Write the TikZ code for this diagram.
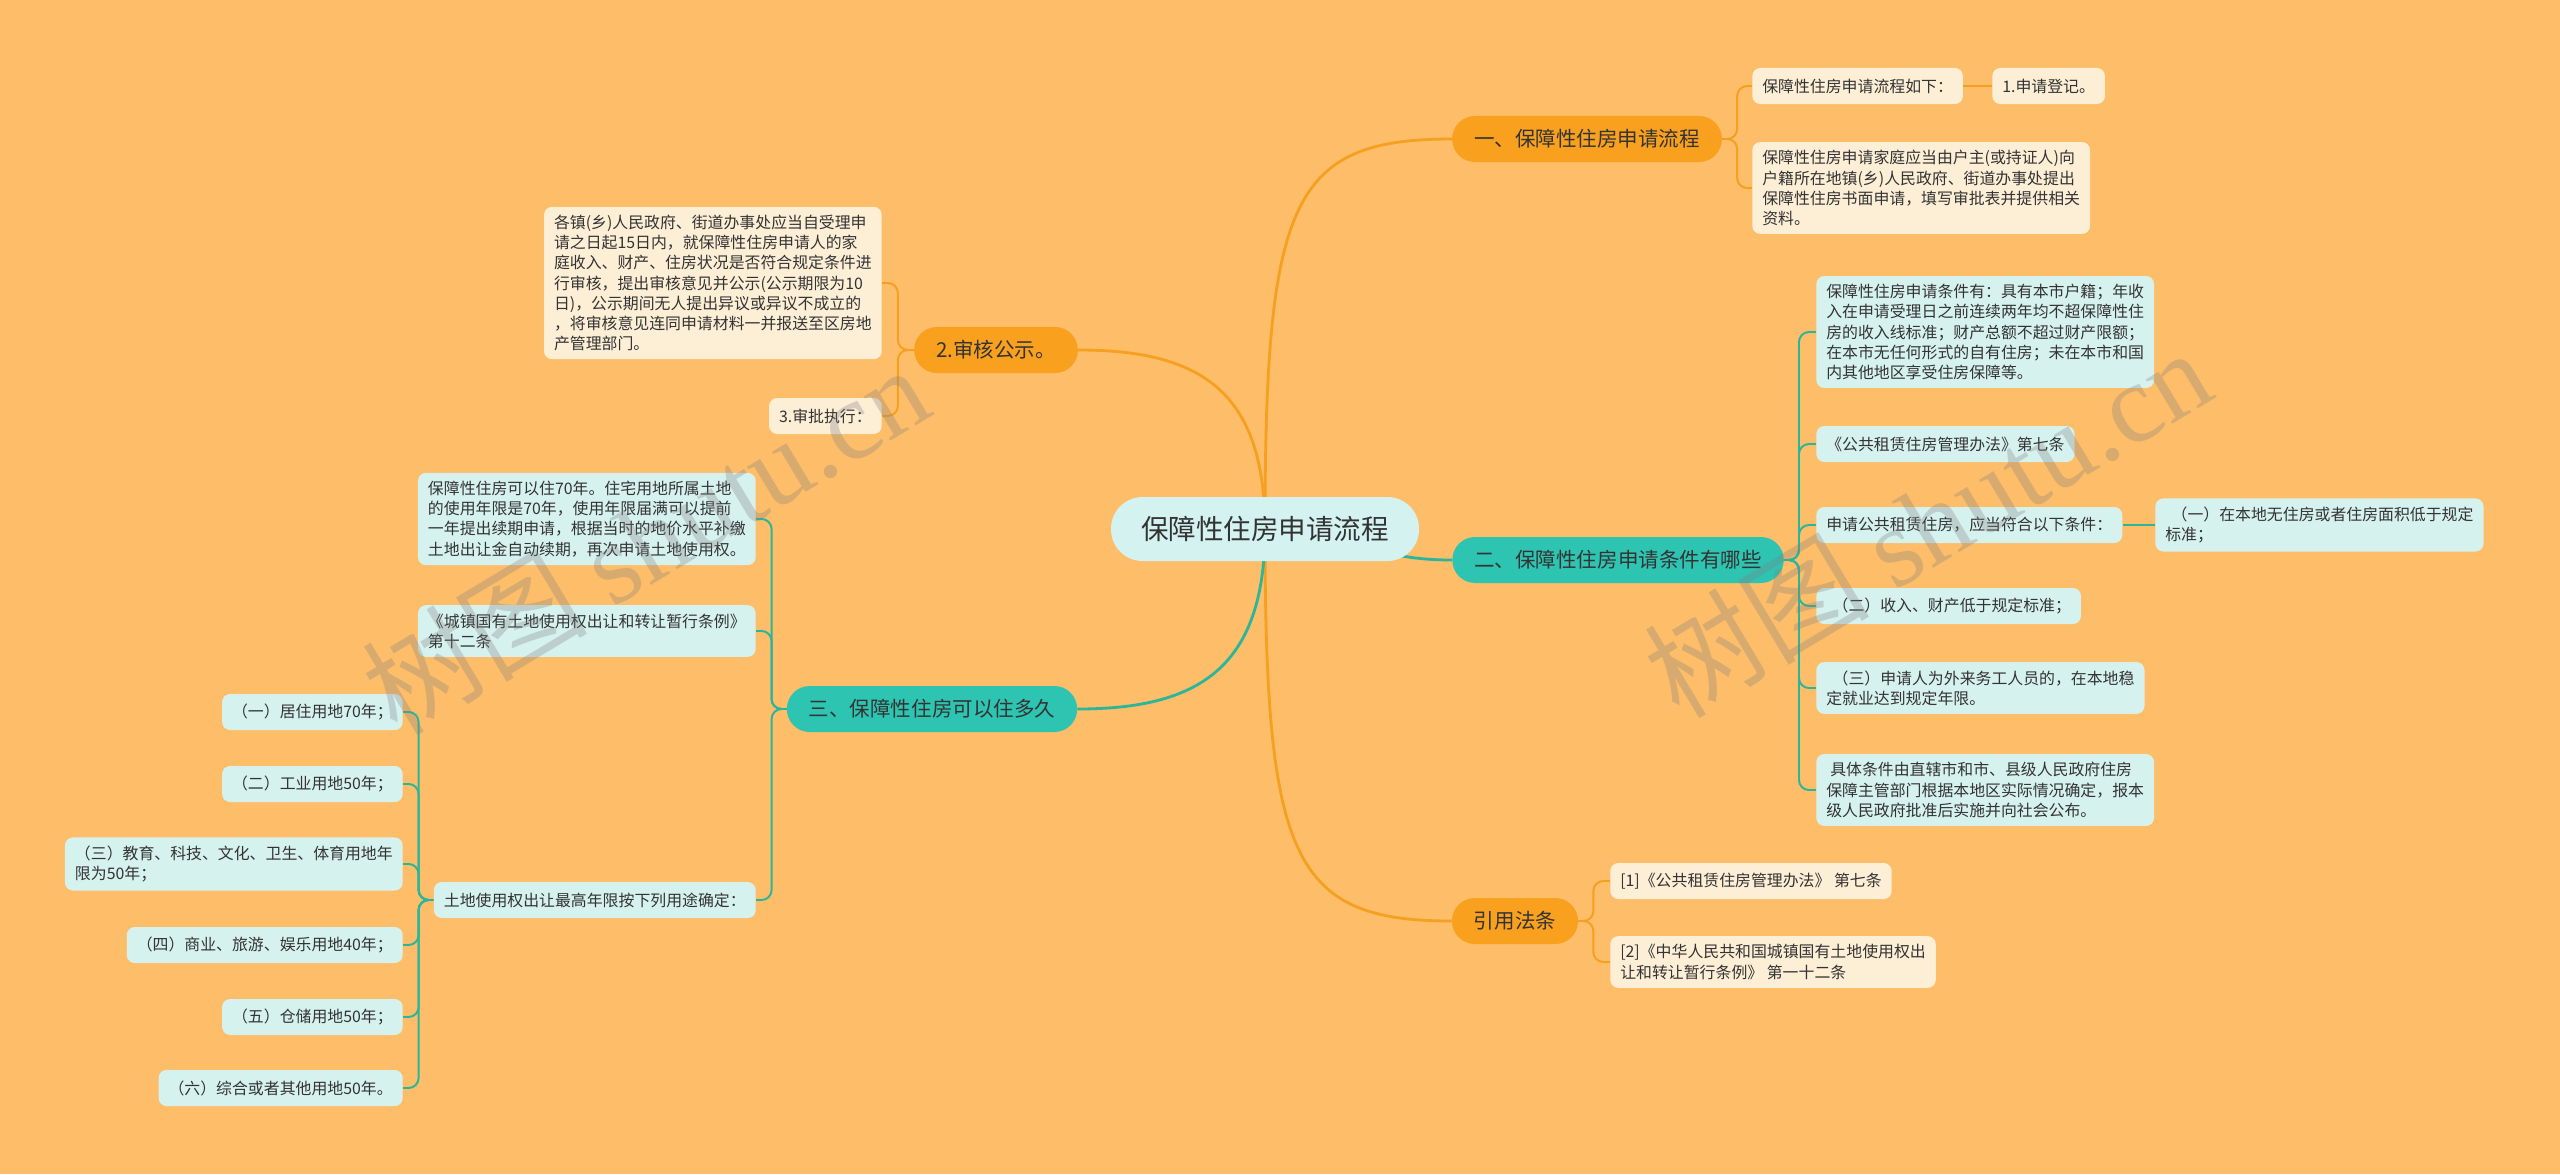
\documentclass[tikz,border=0pt]{standalone}
\usepackage{fontspec}
\setmainfont{Noto Sans CJK SC}
\newfontfamily\wmfont{Liberation Serif}
\usetikzlibrary{backgrounds}
\definecolor{paper}{RGB}{254,189,104}
\definecolor{orng}{RGB}{249,161,30}
\definecolor{tealbr}{RGB}{46,196,178}
\definecolor{rootbg}{RGB}{212,243,240}
\definecolor{cream}{RGB}{253,238,214}
\definecolor{mint}{RGB}{214,242,238}
\definecolor{oline}{RGB}{245,160,32}
\definecolor{tline}{RGB}{43,181,155}
\definecolor{ink}{RGB}{51,51,51}

\begin{document}
\begin{tikzpicture}[x=0.25mm,y=-0.25mm,
  leaf/.style={rounded corners=2mm,align=left,text=ink,inner xsep=2.5mm,inner ysep=2.1mm,
    minimum height=9mm,font=\fontsize{11.3}{14.3}\selectfont},
  lo/.style={leaf,fill=cream},
  lt/.style={leaf,fill=mint},
  br/.style={rounded corners=5.7mm,minimum height=11.5mm,inner xsep=5.5mm,text=ink,
    font=\fontsize{14.6}{17}\selectfont},
  bo/.style={br,fill=orng},
  bt/.style={br,fill=tealbr},
  eo/.style={draw=oline,line width=1.4pt,rounded corners=2.5mm},
  et/.style={draw=tline,line width=1.4pt,rounded corners=2.5mm},
  ro/.style={draw=oline,line width=2pt},
  rt/.style={draw=tline,line width=2pt}]
\useasboundingbox (0,0) rectangle (2560,1174);
% root and main branches
\node[fill=rootbg,rounded corners=7.9mm,minimum height=16mm,inner xsep=7.5mm,text=ink,
  font=\fontsize{19.6}{22}\selectfont] (root) at (1265,529) {保障性住房申请流程};
\node[bo] (flow)  at (1587,139) {一、保障性住房申请流程};
\node[bt] (cond)  at (1618,560) {二、保障性住房申请条件有哪些};
\node[bo] (refs)  at (1515,921) {引用法条};
\node[bo] (audit) at (996,350)  {2.审核公示。};
\node[bt] (term)  at (932,709)  {三、保障性住房可以住多久};
% right side leaves
\node[lo,anchor=west] (flow1) at (1752,86) {保障性住房申请流程如下：};
\node[lo,anchor=west] (flow1a) at (1992,86) {1.申请登记。};
\node[lo,anchor=west] (flow2) at (1752,188) {保障性住房申请家庭应当由户主(或持证人)向\\户籍所在地镇(乡)人民政府、街道办事处提出\\保障性住房书面申请，填写审批表并提供相关\\资料。};
\node[lt,anchor=west] (cond1) at (1816,332) {保障性住房申请条件有：具有本市户籍；年收\\入在申请受理日之前连续两年均不超保障性住\\房的收入线标准；财产总额不超过财产限额；\\在本市无任何形式的自有住房；未在本市和国\\内其他地区享受住房保障等。};
\node[lt,anchor=west] (cond2) at (1816,444) {《公共租赁住房管理办法》第七条};
\node[lt,anchor=west] (cond3) at (1816,525) {申请公共租赁住房，应当符合以下条件：};
\node[lt,anchor=west] (cond3a) at (2155,525) {\hspace*{0.4em}（一）在本地无住房或者住房面积低于规定\\标准；};
\node[lt,anchor=west] (cond4) at (1816,606) {\hspace*{0.4em}（二）收入、财产低于规定标准；};
\node[lt,anchor=west] (cond5) at (1816,688) {\hspace*{0.4em}（三）申请人为外来务工人员的，在本地稳\\定就业达到规定年限。};
\node[lt,anchor=west] (cond6) at (1816,790) {\hspace*{0.25em}具体条件由直辖市和市、县级人民政府住房\\保障主管部门根据本地区实际情况确定，报本\\级人民政府批准后实施并向社会公布。};
\node[lo,anchor=west] (refs1) at (1610,881) {[1]《公共租赁住房管理办法》 第七条};
\node[lo,anchor=west] (refs2) at (1610,962) {[2]《中华人民共和国城镇国有土地使用权出\\让和转让暂行条例》 第一十二条};
% left side leaves
\node[lo,anchor=east] (audit1) at (882,283) {各镇(乡)人民政府、街道办事处应当自受理申\\请之日起15日内，就保障性住房申请人的家\\庭收入、财产、住房状况是否符合规定条件进\\行审核，提出审核意见并公示(公示期限为10\\日)，公示期间无人提出异议或异议不成立的\\，将审核意见连同申请材料一并报送至区房地\\产管理部门。};
\node[lo,anchor=east] (audit2) at (882,416) {3.审批执行：};
\node[lt,anchor=east] (term1) at (756,519) {保障性住房可以住70年。住宅用地所属土地\\的使用年限是70年，使用年限届满可以提前\\一年提出续期申请，根据当时的地价水平补缴\\土地出让金自动续期，再次申请土地使用权。};
\node[lt,anchor=east] (term2) at (756,631) {《城镇国有土地使用权出让和转让暂行条例》\\第十二条};
\node[lt,anchor=east] (term3) at (756,900) {土地使用权出让最高年限按下列用途确定：};
\node[lt,anchor=east] (use1) at (403,712)  {（一）居住用地70年；};
\node[lt,anchor=east] (use2) at (403,784)  {（二）工业用地50年；};
\node[lt,anchor=east] (use3) at (403,864)  {（三）教育、科技、文化、卫生、体育用地年\\限为50年；};
\node[lt,anchor=east] (use4) at (403,945)  {（四）商业、旅游、娱乐用地40年；};
\node[lt,anchor=east] (use5) at (403,1017) {（五）仓储用地50年；};
\node[lt,anchor=east] (use6) at (403,1088) {（六）综合或者其他用地50年。};
% connectors behind the boxes
\begin{scope}[on background layer]
\fill[paper] (0,0) rectangle (2560,1174);
\draw[ro] (root.center) .. controls +(0,-330) and +(-160,0) .. (flow.west);
\draw[rt] (root.center) .. controls +(90,0) and +(-90,0) .. (cond.west);
\draw[ro] (root.center) .. controls +(0,330) and +(-160,0) .. (refs.west);
\draw[ro] (root.center) .. controls +(0,-140) and +(120,0) .. (audit.east);
\draw[rt] (root.center) .. controls +(0,140) and +(120,0) .. (term.east);
\draw[eo] (flow.east) -- ++(15,0) |- (flow1.west);
\draw[eo] (flow.east) -- ++(15,0) |- (flow2.west);
\draw[eo] (flow1.east) -- (flow1a.west);
\foreach \n in {cond1,cond2,cond3,cond4,cond5,cond6}
  \draw[et] (cond.east) -- ++(15,0) |- (\n.west);
\draw[et] (cond3.east) -- (cond3a.west);
\draw[eo] (refs.east) -- ++(15,0) |- (refs1.west);
\draw[eo] (refs.east) -- ++(15,0) |- (refs2.west);
\draw[eo] (audit.west) -- ++(-16,0) |- (audit1.east);
\draw[eo] (audit.west) -- ++(-16,0) |- (audit2.east);
\foreach \n in {term1,term2,term3}
  \draw[et] (term.west) -- ++(-15,0) |- (\n.east);
\foreach \n in {use1,use2,use3,use4,use5,use6}
  \draw[et] (term3.west) -- ++(-15,0) |- (\n.east);
\end{scope}
% watermarks
\node[rotate=31,opacity=0.3,text=gray,font=\fontsize{80}{80}\selectfont] (wm1) at (645,539) {树图 {\wmfont shutu.cn}};
\node[rotate=31,opacity=0.3,text=gray,font=\fontsize{80}{80}\selectfont] (wm2) at (1927,522) {树图 {\wmfont shutu.cn}};
\end{tikzpicture}
\end{document}
